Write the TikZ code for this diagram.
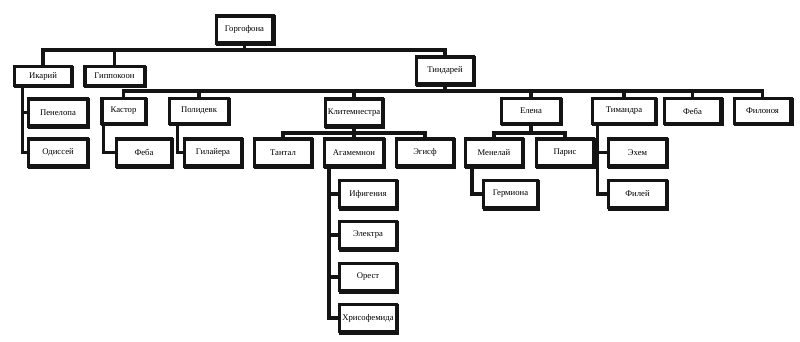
\documentclass[tikz,border=0pt]{standalone}
\usepackage{fontspec}
\setmainfont{Liberation Serif}
\usepackage{tikz}
\usetikzlibrary{shadows}
\definecolor{figline}{RGB}{20,20,20}
\tikzset{
  box/.style  ={draw=figline, line width=2.6pt, fill=white, inner sep=1pt,
                minimum width=42.4pt, minimum height=20.4pt,
                font=\fontsize{6.5}{7}\selectfont,
                general shadow={draw=figline, fill=figline, line width=2.6pt,
                                shadow xshift=0.9pt, shadow yshift=-0.9pt}},
  boxs/.style ={box, minimum height=18.4pt},
  boxt/.style ={box, minimum height=13.9pt},
  link/.style ={draw=figline, line width=2.6pt, line cap=rect, line join=miter},
}
\begin{document}
\begin{tikzpicture}[x=0.75pt,y=-0.75pt]
  \useasboundingbox (0,0) rectangle (800,342);
  % generation 1-2
  \node[box] (gorg) at (244.5,29.5) {Горгофона};
  \node[boxt] (ikar) at (43,76) {Икарий};
  \node[boxt,minimum width=44.6pt] (gipp) at (114.5,76) {Гиппокоон};
  \node[box] (tind) at (445,70.5) {Тиндарей};
  % children of Ikarios
  \node[box,minimum width=43.9pt] (pene) at (58,112.5) {Пенелопа};
  \node[box,minimum width=43.9pt] (odis) at (58,152.5) {Одиссей};
  % children of Tyndareus
  \node[boxs,minimum width=32.6pt] (kast) at (123.5,111) {Кастор};
  \node[boxs,minimum width=43.9pt] (poli) at (199,111) {Полидевк};
  \node[box] (klit) at (354,112.5) {Клитемнестра};
  \node[boxs,minimum width=43.9pt] (elen) at (531,111) {Елена};
  \node[boxs,minimum width=46.9pt] (tima) at (624,111) {Тимандра};
  \node[boxs] (febb) at (692.5,111) {Феба};
  \node[boxs] (filo) at (762.5,111) {Филоноя};
  % wives
  \node[box,minimum width=40.9pt] (feba) at (144,152.5) {Феба};
  \node[box] (gila) at (213,152.5) {Гилайера};
  % Klytaimnestra
  \node[box] (tant) at (283,152.5) {Тантал};
  \node[box,minimum width=43.9pt] (agam) at (354,152.5) {Агамемнон};
  \node[box] (egis) at (425,152.5) {Эгисф};
  \node[box] (ifig) at (368,194) {Ифигения};
  \node[box] (elek) at (368,235) {Электра};
  \node[box] (ores) at (368,277) {Орест};
  \node[box] (hris) at (368,318) {Хрисофемида};
  % Helen
  \node[box] (mene) at (494,152.5) {Менелай};
  \node[box] (pari) at (565,152.5) {Парис};
  \node[box,minimum width=40.2pt] (germ) at (510.5,194) {Гермиона};
  % Timandra
  \node[box,minimum width=43.2pt] (ehem) at (637.5,152.5) {Эхем};
  \node[box,minimum width=43.2pt] (file) at (637.5,194) {Филей};

  % buses
  \coordinate (busA) at (0,50);
  \coordinate (busB) at (0,91);
  \coordinate (busC) at (0,133);
  \draw[link] (ikar.north |- busA) -- (tind.north |- busA);
  \draw[link] (gorg.south) -- (gorg.south |- busA);
  \foreach \n in {ikar,gipp,tind}
    \draw[link] (\n.north) -- (\n.north |- busA);
  \draw[link] (kast.north |- busB) -- (filo.north |- busB);
  \draw[link] (tind.south) -- (tind.south |- busB);
  \foreach \n in {kast,poli,klit,elen,tima,febb,filo}
    \draw[link] (\n.north) -- (\n.north |- busB);
  \draw[link] (tant.north |- busC) -- (egis.north |- busC);
  \draw[link] (klit.south) -- (klit.south |- busC);
  \foreach \n in {tant,agam,egis}
    \draw[link] (\n.north) -- (\n.north |- busC);
  \draw[link] (mene.north |- busC) -- (pari.north |- busC);
  \draw[link] (elen.south) -- (elen.south |- busC);
  \foreach \n in {mene,pari}
    \draw[link] (\n.north) -- (\n.north |- busC);

  % side branches
  \draw[link] ([xshift=7pt]ikar.south west) |- (odis.west);
  \draw[link] (pene.west) -| ([xshift=7pt]ikar.south west);
  \draw[link] ([xshift=2.5pt]kast.south west) |- (feba.west);
  \draw[link] ([xshift=7pt]poli.south west) |- (gila.west);
  \draw[link] ([xshift=4.5pt]agam.south west) |- (hris.west);
  \foreach \n in {ifig,elek,ores}
    \draw[link] (\n.west) -| ([xshift=4.5pt]agam.south west);
  \draw[link] ([xshift=6pt]mene.south west) |- (germ.west);
  \draw[link] ([xshift=5pt]tima.south west) |- (file.west);
  \draw[link] (ehem.west) -| ([xshift=5pt]tima.south west);
\end{tikzpicture}
\end{document}
